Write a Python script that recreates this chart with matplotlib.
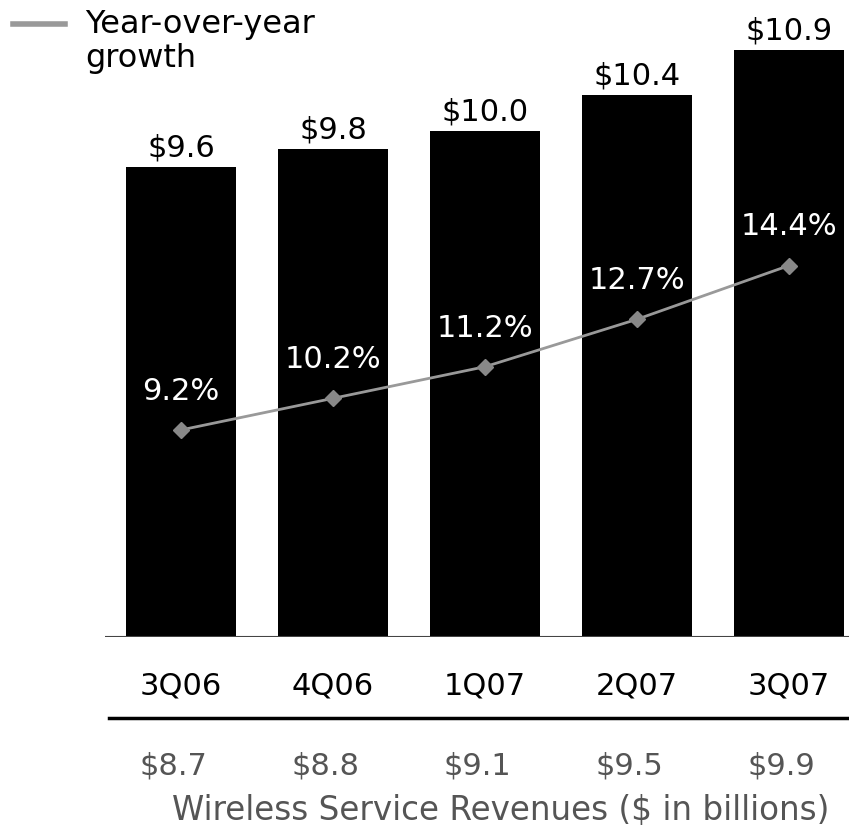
import matplotlib.pyplot as plt
from matplotlib.lines import Line2D

# Quarterly wireless revenue ($B) and year-over-year growth (%)
quarters = ["3Q06", "4Q06", "1Q07", "2Q07", "3Q07"]
revenue = [9.6, 9.8, 10.0, 10.4, 10.9]
growth = [9.2, 10.2, 11.2, 12.7, 14.4]
service_revenue = [8.7, 8.8, 9.1, 9.5, 9.9]

plt.rcParams["font.family"] = ["DejaVu Sans"]

fig = plt.figure(figsize=(8.49, 8.30), dpi=100)
ax = fig.add_axes([0.1237, 0.2325, 0.8763, 0.7675])
x = list(range(len(quarters)))

ax.bar(x, revenue, width=0.72, color="black", zorder=2)
ax.set_xlim(-0.5, 4.395)
ax.set_ylim(4.38, 11.46)
for xi, v in zip(x, revenue):
    ax.text(xi, v + 0.21, f"${v:.1f}", ha="center", va="center",
            fontsize=22, color="black")

ax.axis("off")
ax.axhline(4.38, color="#444444", lw=1.5, zorder=3)

# growth line on its own scale
ax2 = ax.twinx()
ax2.set_ylim(2.65, 22.8)
ax2.plot(x, growth, color="#999999", lw=2, marker="D", markersize=8,
         markerfacecolor="#888888", markeredgecolor="#888888", zorder=4)
for xi, g in zip(x, growth):
    ax2.text(xi, g + 1.22, f"{g:.1f}%", ha="center", va="center",
             fontsize=22, color="white")
ax2.axis("off")

# category row, separator and service revenue row
for xi, q in zip(x, quarters):
    ax.annotate(q, xy=(xi, 0), xycoords=("data", "figure fraction"),
                xytext=(0, 830 - 686), textcoords="offset pixels",
                ha="center", va="center", fontsize=22, color="black")
for xi, s in zip(x, service_revenue):
    ax.annotate(f"${s:.1f}", xy=(xi - 0.05, 0), xycoords=("data", "figure fraction"),
                xytext=(0, 830 - 766), textcoords="offset pixels",
                ha="center", va="center", fontsize=22, color="#555555")

fig.add_artist(Line2D([109 / 849, 1.0], [1 - 718 / 830] * 2, color="black", lw=2.5))
fig.text(501 / 849, 1 - 810 / 830, "Wireless Service Revenues ($ in billions)",
         ha="center", va="center", fontsize=23.5, color="#555555")

# legend entry in the top-left corner
fig.add_artist(Line2D([13 / 849, 65 / 849], [1 - 24 / 830] * 2, color="#999999", lw=4))
fig.text(85 / 849, 1 - 24 / 830, "Year-over-year", ha="left", va="center",
         fontsize=23, color="black")
fig.text(85 / 849, 1 - 58 / 830, "growth", ha="left", va="center",
         fontsize=23, color="black")

fig.savefig("out.png", dpi=100)
